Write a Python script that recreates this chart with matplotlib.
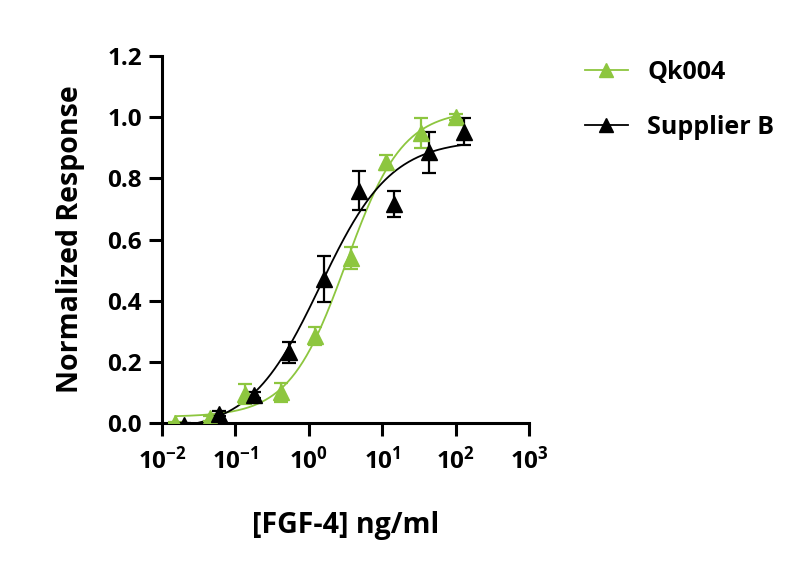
import numpy as np
import matplotlib
matplotlib.use("Agg")
import matplotlib.pyplot as plt
from matplotlib.ticker import FixedLocator, NullLocator

plt.rcParams["font.family"] = ["Open Sans", "DejaVu Sans"]
plt.rcParams["font.weight"] = "bold"
plt.rcParams["mathtext.fontset"] = "custom"
plt.rcParams["mathtext.rm"] = "Open Sans:bold"
plt.rcParams["mathtext.bf"] = "Open Sans:bold"

# FGF-4 dose response, means +/- SD
conc_qk = [0.0152, 0.0457, 0.137, 0.412, 1.23, 3.70, 11.1, 33.3, 100.0]
resp_qk = [0.000, 0.015, 0.094, 0.100, 0.284, 0.540, 0.852, 0.947, 1.000]
err_qk = [0.004, 0.008, 0.033, 0.030, 0.029, 0.035, 0.025, 0.049, 0.010]

conc_sb = [0.0198, 0.0593, 0.178, 0.535, 1.60, 4.81, 14.4, 43.3, 130.0]
resp_sb = [-0.005, 0.030, 0.092, 0.231, 0.471, 0.760, 0.716, 0.886, 0.953]
err_sb = [0.004, 0.008, 0.010, 0.034, 0.075, 0.064, 0.044, 0.067, 0.044]

labels = ["Qk004", "Supplier B"]
colors = ["#8dc63f", "black"]


def logistic4(logx, p):
    bottom, top, logec50, hill = p
    return bottom + (top - bottom) / (1 + 10 ** ((logec50 - logx) * hill))


def fit_4pl(x, y):
    # small Levenberg-Marquardt, numpy only
    lx = np.log10(x)
    y = np.asarray(y)
    p = np.array([min(y), max(y), np.median(lx), 1.0])
    lam = 1e-2
    for _ in range(500):
        r = y - logistic4(lx, p)
        J = np.empty((len(lx), 4))
        for k in range(4):
            dp = np.zeros(4)
            dp[k] = 1e-6
            J[:, k] = (logistic4(lx, p + dp) - logistic4(lx, p)) / 1e-6
        A = J.T @ J
        step = np.linalg.solve(A + lam * np.diag(np.diag(A)), J.T @ r)
        p_new = p + step
        if np.sum((y - logistic4(lx, p_new)) ** 2) < np.sum(r ** 2):
            p = p_new
            lam *= 0.5
        else:
            lam *= 4
    return p


fig = plt.figure(figsize=(8, 5.75), dpi=100)
ax = fig.add_axes([0.2025, 0.2643, 0.4588, 0.6383])

series = [(conc_qk, resp_qk, err_qk), (conc_sb, resp_sb, err_sb)]
handles = []
for i in [1, 0]:
    x, y, e = series[i]
    p = fit_4pl(x, y)
    xs = np.logspace(np.log10(min(x)), np.log10(max(x)), 300)
    ax.plot(xs, logistic4(np.log10(xs), p), color=colors[i], lw=1.3, zorder=2 + i)
    ax.errorbar(x, y, yerr=e, fmt="none", ecolor=colors[i], elinewidth=1.6,
                capsize=5, capthick=1.6, zorder=4 + i)
    ax.plot(x, y, "^", color=colors[i], ms=11, zorder=6 + i)

for i in [0, 1]:
    h, = ax.plot([], [], "-^", color=colors[i], lw=1.3, ms=10, label=labels[i])
    handles.append(h)

ax.set_xscale("log")
ax.set_xlim(1e-2, 1e3)
ax.set_ylim(0, 1.2)
ax.xaxis.set_major_locator(FixedLocator([1e-2, 1e-1, 1e0, 1e1, 1e2, 1e3]))
ax.xaxis.set_minor_locator(NullLocator())
ax.set_xticklabels([r"$\mathbf{10^{%d}}$" % k for k in range(-2, 4)])
ax.set_yticks([0, 0.2, 0.4, 0.6, 0.8, 1.0, 1.2])
ax.set_yticklabels(["0.0", "0.2", "0.4", "0.6", "0.8", "1.0", "1.2"])

for s in ["top", "right"]:
    ax.spines[s].set_visible(False)
for s in ["left", "bottom"]:
    ax.spines[s].set_linewidth(2.2)
ax.tick_params(width=2.2, length=9.5, labelsize=17.5, pad=5)
ax.tick_params(axis="x", pad=8)

ax.set_xlabel("[FGF-4] ng/ml", fontsize=20.5, fontweight="bold", labelpad=26)
ax.set_ylabel("Normalized Response", fontsize=20.5, fontweight="bold", labelpad=16)

ax.legend(handles=handles, loc="upper left", bbox_to_anchor=(1.09, 1.05),
          frameon=False, fontsize=18, handlelength=1.75, handletextpad=0.75,
          labelspacing=1.2)

fig.savefig("out.png", dpi=100)
